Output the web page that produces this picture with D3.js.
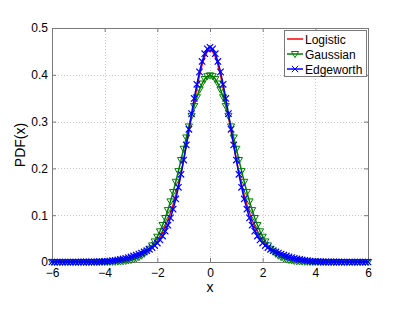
<!DOCTYPE html>
<html>
<head>
<meta charset="utf-8">
<script src="https://cdn.jsdelivr.net/npm/d3@7"></script>
<style>
    body { margin: 0; background: #fff; }
    text { font-family: "Liberation Sans", Arial, sans-serif; }
    .grid line { stroke: #c8c8c8; stroke-dasharray: 1,2; }
</style>
</head>
<body>
<div id="PdfGraph" style="width:407px;height:315px"></div>
<script>
// sample points, -6 .. 6
var xValues = [-6.0,-5.9,-5.8,-5.7,-5.6,-5.5,-5.4,-5.3,-5.2,-5.1,-5.0,-4.9,-4.8,-4.7,-4.6,-4.5,-4.4,-4.3,-4.2,-4.1,
    -4.0,-3.9,-3.8,-3.7,-3.6,-3.5,-3.4,-3.3,-3.2,-3.1,-3.0,-2.9,-2.8,-2.7,-2.6,-2.5,-2.4,-2.3,-2.2,-2.1,
    -2.0,-1.9,-1.8,-1.7,-1.6,-1.5,-1.4,-1.3,-1.2,-1.1,-1.0,-0.9,-0.8,-0.7,-0.6,-0.5,-0.4,-0.3,-0.2,-0.1,
    0.0,0.1,0.2,0.3,0.4,0.5,0.6,0.7,0.8,0.9,1.0,1.1,1.2,1.3,1.4,1.5,1.6,1.7,1.8,1.9,
    2.0,2.1,2.2,2.3,2.4,2.5,2.6,2.7,2.8,2.9,3.0,3.1,3.2,3.3,3.4,3.5,3.6,3.7,3.8,3.9,
    4.0,4.1,4.2,4.3,4.4,4.5,4.6,4.7,4.8,4.9,5.0,5.1,5.2,5.3,5.4,5.5,5.6,5.7,5.8,5.9,6.0];

var logistic = [0.0000,0.0000,0.0000,0.0001,0.0001,0.0001,0.0001,0.0001,0.0001,0.0002,0.0002,0.0003,0.0003,0.0004,0.0004,0.0005,0.0006,0.0007,0.0009,0.0011,
    0.0013,0.0015,0.0018,0.0022,0.0026,0.0032,0.0038,0.0045,0.0054,0.0065,0.0078,0.0093,0.0112,0.0133,0.0160,0.0191,0.0227,0.0271,0.0323,0.0385,
    0.0457,0.0543,0.0643,0.0760,0.0895,0.1051,0.1230,0.1432,0.1660,0.1911,0.2186,0.2481,0.2790,0.3106,0.3418,0.3716,0.3986,0.4215,0.4389,0.4497,
    0.4534,0.4497,0.4389,0.4215,0.3986,0.3716,0.3418,0.3106,0.2790,0.2481,0.2186,0.1911,0.1660,0.1432,0.1230,0.1051,0.0895,0.0760,0.0643,0.0543,
    0.0457,0.0385,0.0323,0.0271,0.0227,0.0191,0.0160,0.0133,0.0112,0.0093,0.0078,0.0065,0.0054,0.0045,0.0038,0.0032,0.0026,0.0022,0.0018,0.0015,
    0.0013,0.0011,0.0009,0.0007,0.0006,0.0005,0.0004,0.0004,0.0003,0.0003,0.0002,0.0002,0.0001,0.0001,0.0001,0.0001,0.0001,0.0001,0.0000,0.0000,0.0000];

var gaussian = [0,0,0,0,0,0,0,0,0,0,0,0,0,0,0,0,0,0,0.0001,0.0001,
    0.0001,0.0002,0.0003,0.0004,0.0006,0.0009,0.0012,0.0017,0.0024,0.0033,0.0044,0.0060,0.0079,0.0104,0.0136,0.0175,0.0224,0.0283,0.0355,0.0440,
    0.0540,0.0656,0.0790,0.0940,0.1109,0.1295,0.1497,0.1714,0.1942,0.2179,0.2420,0.2661,0.2897,0.3123,0.3332,0.3521,0.3683,0.3814,0.3910,0.3970,
    0.3989,0.3970,0.3910,0.3814,0.3683,0.3521,0.3332,0.3123,0.2897,0.2661,0.2420,0.2179,0.1942,0.1714,0.1497,0.1295,0.1109,0.0940,0.0790,0.0656,
    0.0540,0.0440,0.0355,0.0283,0.0224,0.0175,0.0136,0.0104,0.0079,0.0060,0.0044,0.0033,0.0024,0.0017,0.0012,0.0009,0.0006,0.0004,0.0003,0.0002,
    0.0001,0.0001,0.0001,0,0,0,0,0,0,0,0,0,0,0,0,0,0,0,0,0,0];

var edgeworth = [0,0,0,0,0,0,0,0,0,0,0.0000,0.0001,0.0001,0.0001,0.0002,0.0003,0.0004,0.0005,0.0007,0.0009,
    0.0012,0.0016,0.0021,0.0027,0.0035,0.0043,0.0054,0.0066,0.0079,0.0094,0.0111,0.0129,0.0148,0.0168,0.0191,0.0215,0.0242,0.0272,0.0309,0.0352,
    0.0405,0.0471,0.0555,0.0659,0.0787,0.0943,0.1129,0.1347,0.1596,0.1874,0.2178,0.2501,0.2835,0.3170,0.3494,0.3796,0.4063,0.4285,0.4450,0.4554,
    0.4588,0.4554,0.4450,0.4285,0.4063,0.3796,0.3494,0.3170,0.2835,0.2501,0.2178,0.1874,0.1596,0.1347,0.1129,0.0943,0.0787,0.0659,0.0555,0.0471,
    0.0405,0.0352,0.0309,0.0272,0.0242,0.0215,0.0191,0.0168,0.0148,0.0129,0.0111,0.0094,0.0079,0.0066,0.0054,0.0043,0.0035,0.0027,0.0021,0.0016,
    0.0012,0.0009,0.0007,0.0005,0.0004,0.0003,0.0002,0.0001,0.0001,0.0001,0.0000,0,0,0,0,0,0,0,0,0,0];

var xTicks = [-6, -4, -2, 0, 2, 4, 6];
var yTicks = [0, 0.1, 0.2, 0.3, 0.4, 0.5];
var seriesNames = ["Logistic", "Gaussian", "Edgeworth"];
var seriesColors = ["#ff0000", "#008000", "#0000ff"];

Plot();
function Plot() {
    var margin = { top: 28, right: 39, bottom: 53, left: 52 };
    var plotRect = document.getElementById('PdfGraph').getBoundingClientRect();
    var width = plotRect.width - margin.left - margin.right;
    var height = plotRect.height - margin.top - margin.bottom;

    var x = d3.scaleLinear().domain([-6, 6]).range([0, width]);
    var y = d3.scaleLinear().domain([0, 0.5]).range([height, 0]);

    var svg = d3.select("#PdfGraph").append("svg")
        .attr("width", plotRect.width)
        .attr("height", plotRect.height)
        .append("g")
        .attr("transform", "translate(" + margin.left + "," + margin.top + ")");

    // dotted grid
    svg.append("g").attr("class", "grid")
        .selectAll("line").data(xTicks.slice(1, -1)).enter().append("line")
        .attr("x1", function (d) { return Math.round(x(d)) + 0.5; })
        .attr("x2", function (d) { return Math.round(x(d)) + 0.5; })
        .attr("y1", 0).attr("y2", height);
    svg.append("g").attr("class", "grid")
        .selectAll("line").data(yTicks.slice(1, -1)).enter().append("line")
        .attr("y1", function (d) { return Math.round(y(d)) + 0.5; })
        .attr("y2", function (d) { return Math.round(y(d)) + 0.5; })
        .attr("x1", 0).attr("x2", width);

    var fmt = function (d) { return d < 0 ? "\u2212" + Math.abs(d) : String(d); };

    var xAxis = d3.axisBottom(x).tickValues(xTicks).tickFormat(fmt).tickSizeInner(-4).tickSizeOuter(0).tickPadding(6);
    var yAxis = d3.axisLeft(y).tickValues(yTicks).tickFormat(function (d) { return d === 0 ? "0" : d3.format(".1f")(d); })
        .tickSizeInner(-4).tickSizeOuter(0).tickPadding(4);
    var xAxisTop = d3.axisTop(x).tickValues(xTicks).tickFormat("").tickSizeInner(-4).tickSizeOuter(0);
    var yAxisRight = d3.axisRight(y).tickValues(yTicks).tickFormat("").tickSizeInner(-4).tickSizeOuter(0);

    var gX = svg.append("g").attr("class", "axis x").attr("transform", "translate(0," + height + ")").call(xAxis);
    var gY = svg.append("g").attr("class", "axis y").call(yAxis);
    svg.append("g").attr("class", "axis").call(xAxisTop);
    svg.append("g").attr("class", "axis").attr("transform", "translate(" + width + ",0)").call(yAxisRight);

    svg.selectAll(".axis path, .axis line").attr("stroke", "#7a7a7a");
    svg.selectAll(".axis text").attr("fill", "#000").style("font-size", "12px").style("font-family", "'Liberation Sans', Arial, sans-serif");

    // axis labels
    svg.append("text")
        .attr("x", width / 2).attr("y", height + 30)
        .style("text-anchor", "middle").style("font-size", "14px")
        .text("x");
    svg.append("text")
        .attr("transform", "rotate(-90)")
        .attr("x", -height / 2).attr("y", -27)
        .style("text-anchor", "middle").style("font-size", "14px")
        .text("PDF(x)");

    var pts = function (vals) {
        return xValues.map(function (v, i) { return { x: v, y: vals[i] }; });
    };
    var line = d3.line()
        .x(function (d) { return x(d.x); })
        .y(function (d) { return y(d.y); });

    // Logistic
    svg.append("path").datum(pts(logistic))
        .attr("fill", "none").attr("stroke", seriesColors[0]).attr("stroke-width", 1.5)
        .attr("d", line);

    // Gaussian with down triangles
    var tri = "M-3.6,-2.5L3.6,-2.5L0,3.6Z";
    svg.append("path").datum(pts(gaussian))
        .attr("fill", "none").attr("stroke", seriesColors[1]).attr("stroke-width", 1.5)
        .attr("d", line);
    svg.append("g").selectAll("path").data(pts(gaussian)).enter().append("path")
        .attr("transform", function (d) { return "translate(" + x(d.x) + "," + y(d.y) + ")"; })
        .attr("d", tri)
        .attr("fill", "none").attr("stroke", seriesColors[1]).attr("stroke-width", 1);

    // Edgeworth with crosses
    var cross = "M-3.2,-3.2L3.2,3.2M-3.2,3.2L3.2,-3.2";
    svg.append("path").datum(pts(edgeworth))
        .attr("fill", "none").attr("stroke", seriesColors[2]).attr("stroke-width", 1.5)
        .attr("d", line);
    svg.append("g").selectAll("path").data(pts(edgeworth)).enter().append("path")
        .attr("transform", function (d) { return "translate(" + x(d.x) + "," + y(d.y) + ")"; })
        .attr("d", cross)
        .attr("fill", "none").attr("stroke", seriesColors[2]).attr("stroke-width", 1.2);

    // Legend
    var lg = svg.append("g").attr("transform", "translate(" + (width - 84) + ",2)");
    lg.append("rect")
        .attr("x", 0.5).attr("y", 0.5).attr("width", 82).attr("height", 46)
        .attr("fill", "#fff").attr("stroke", "#7a7a7a");
    var rows = lg.selectAll("g.row").data(seriesNames).enter().append("g")
        .attr("class", "row")
        .attr("transform", function (d, i) { return "translate(0," + (9 + i * 15) + ")"; });
    rows.append("line")
        .attr("x1", 3).attr("x2", 19).attr("y1", 0).attr("y2", 0)
        .attr("stroke", function (d, i) { return seriesColors[i]; }).attr("stroke-width", 1.5);
    rows.filter(function (d, i) { return i === 1; }).append("path")
        .attr("transform", "translate(11,0)").attr("d", tri)
        .attr("fill", "none").attr("stroke", seriesColors[1]);
    rows.filter(function (d, i) { return i === 2; }).append("path")
        .attr("transform", "translate(11,0)").attr("d", cross)
        .attr("fill", "none").attr("stroke", seriesColors[2]);
    rows.append("text")
        .attr("x", 21).attr("y", 4.5)
        .style("font-size", "12px")
        .text(function (d) { return d; });
}
</script>
</body>
</html>
